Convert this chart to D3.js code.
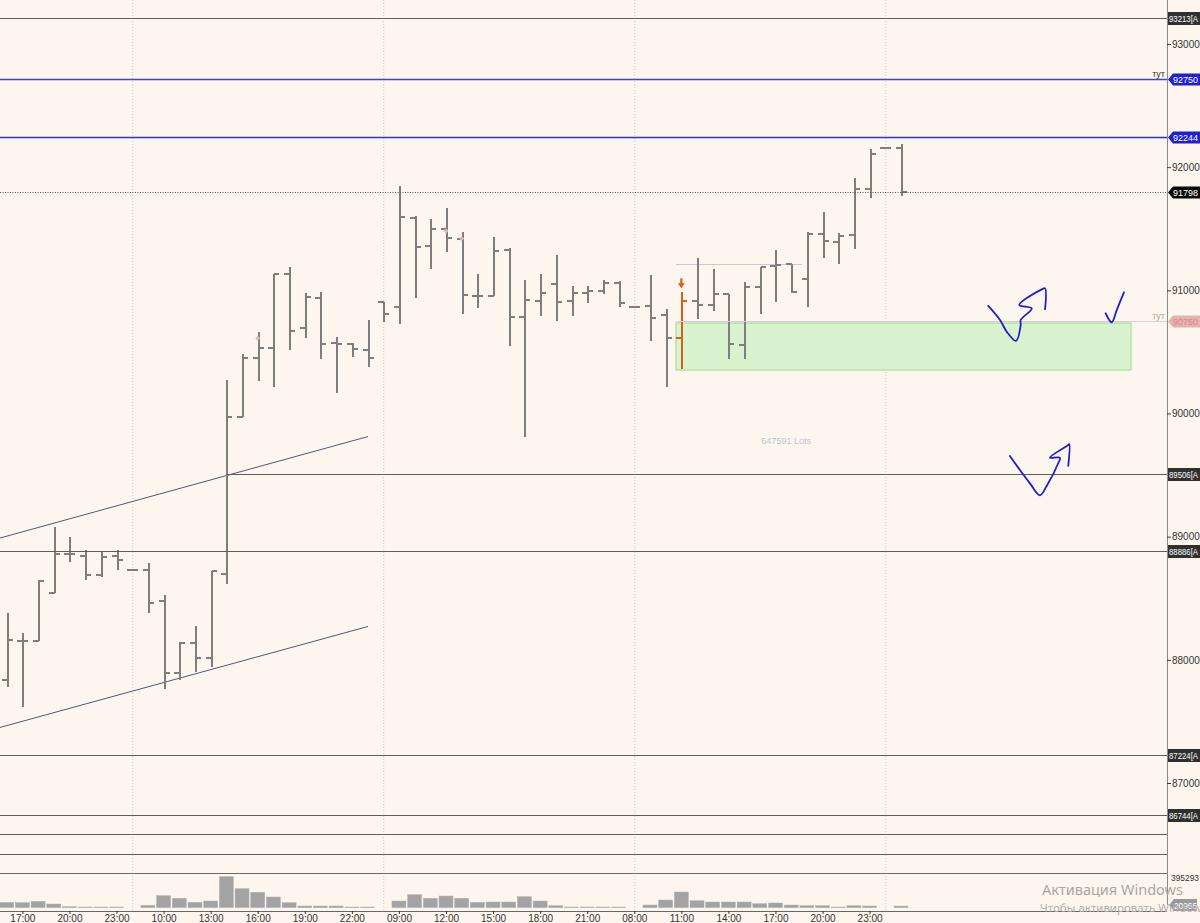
<!DOCTYPE html>
<html><head><meta charset="utf-8">
<script src="https://cdn.jsdelivr.net/npm/d3@7"></script>
<style>
html,body{margin:0;padding:0;background:#fdf6ee;}
svg{display:block;font-family:"Liberation Sans",Arial,sans-serif;}
</style></head>
<body>
<svg id="c" width="1200" height="923"></svg>
<script>
// ---------- DATA ----------
const slotTimes = ["16:00","17:00","18:00","19:00","20:00","21:00","22:00","23:00",
 "08:00","09:00","10:00","11:00","12:00","13:00","14:00","15:00","16:00","17:00","18:00","19:00","20:00","21:00","22:00","23:00",
 "08:00","09:00","10:00","11:00","12:00","13:00","14:00","15:00","16:00","17:00","18:00","19:00","20:00","21:00","22:00","23:00",
 "08:00","09:00","10:00","11:00","12:00","13:00","14:00","15:00","16:00","17:00","18:00","19:00","20:00","21:00","22:00","23:00",
 "08:00","09:00"];
const openP = [87836,88153,88155,88545,88857,88843,88689,88843,88730,88730,88478,87891,88134,88013,88697,89969,90453,90534,91133,90692,90935,90575,90562,90516,90908,90862,91590,91362,91496,91417,90954,90954,91328,90786,90916,91051,90913,90976,90997,91057,90861,90873,90800,90611,90916,90881,90968,90556,91030,91200,91214,91090,91455,91395,91449,91820,92153,92153];
const highP = [88380,88220,88648,89076,88995,88892,88884,88892,88730,88789,88527,88147,88277,88724,90272,90483,90659,91133,91192,90981,90984,90619,90570,90759,90908,91847,91606,91577,91671,91471,91130,91435,91341,91084,91130,91287,91038,91038,91084,91076,90861,91125,90848,90984,91260,91171,90968,91065,91187,91327,91214,91476,91634,91468,91914,92145,92153,92188];
const lowP = [87780,87615,88150,88540,88797,88648,88670,88730,88730,88378,87761,87836,87899,87944,88613,89969,90266,90213,90516,90610,90443,90169,90461,90375,90745,90727,90935,91173,91314,90805,90854,90954,90550,89812,90792,90754,90794,90895,90970,90862,90861,90591,90217,90359,90765,90835,90440,90440,90805,90908,90976,90867,91260,91211,91333,91752,92153,91768];
const closeP = [88161,88153,88640,88857,88857,88689,88837,88810,88730,88464,87891,88134,88013,88721,89969,90453,90529,91133,90672,90943,90564,90562,90521,90453,90805,91598,91354,91496,91427,90962,90954,91322,90786,90922,90981,90908,90976,90997,91057,90900,90861,90775,90611,90916,90881,90968,90562,91030,91187,91206,90989,91455,91401,91441,91820,92104,92153,91798];
const volume = [67600,63800,81600,47200,12800,8900,8900,8900,0,30600,153000,119900,68900,85400,395293,242300,196400,136400,63800,21700,21700,21700,8900,8900,0,85400,165800,119900,149200,119900,68900,72700,72700,140300,85400,25500,8900,8900,8900,8900,0,34400,98200,200200,89300,72700,72700,72700,51000,59900,34400,25500,25500,8900,25500,21700,0,20965];
const sessionStarts = [8,24,40,56];
const signalSlot = 43;

const priceTicks = [87000,88000,89000,90000,91000,92000,93000];
const levelValues = [93213,92716,92244,91798,90750,89506,88886,87224,86744,86586,86424];
const levelLabels = ["93213[A","92750","92244","91798","90750","89506[A","88886[A","87224[A","86744[A","",""];
const levelKinds  = ["grey","blueThick","blue","dot","pink","grey","grey","grey","grey","grey","grey"];
const levelStart  = [null,null,null,null,42.66,14,null,null,null,null,null];
const levelNotes  = ["","тут","","","тут","","","","","",""];

const trendUpper = [[-0.43,88989],[23.03,89813]];
const trendLower = [[-0.43,87451],[23.03,88271]];
const zoneSlots = [42.66,71.66];
const zonePrices = [90735,90353];
const thinLine = {from:42.66,to:50.7,price:91217};
const markers = [[16,90610],[28,91482],[29,91420]];

const scribble1 = [[62.56,90873],[63.31,90759],[63.74,90664],[64.33,90589],[64.63,90718],[64.63,90759],[65.33,90854],[64.54,90881],[65.97,91008],[66.18,91016],[66.18,90846]];
const scribble2 = [[70.04,90814],[70.43,90741],[70.75,90840],[71.21,90984]];
const scribble3 = [[63.94,89655],[64.58,89541],[65.22,89433],[65.86,89336],[66.32,89420],[67.02,89596],[67.13,89641],[66.49,89641],[67.66,89744],[67.73,89752],[67.66,89574]];
const lotsText = "647591 Lots";
const volMaxLabel = "395293";

// ---------- SCALES ----------
const W = 1200, H = 923, axisX = 1167, paneBottom = 873, timeAxisY = 911;
const x = d3.scaleLinear().domain([0, 57]).range([6.7, 901]);
const y = d3.scaleLinear().domain([87000, 93000]).range([783, 44]);
const yv = d3.scaleLinear().domain([0, 395293]).range([907.7, 876.7]);

const svg = d3.select("#c");
svg.append("rect").attr("width",W).attr("height",H).attr("fill","#fdf6ee");

const defs = svg.append("defs");
defs.append("clipPath").attr("id","pane").append("rect").attr("x",0).attr("y",0).attr("width",axisX).attr("height",paneBottom);

// session separators
svg.append("g").selectAll("line").data(sessionStarts).join("line")
  .attr("x1",d=>x(d)+0.5).attr("x2",d=>x(d)+0.5).attr("y1",0).attr("y2",timeAxisY)
  .attr("stroke","#cfc9c2").attr("stroke-dasharray","1,2").attr("stroke-width",1);

const pane = svg.append("g").attr("clip-path","url(#pane)");

// zone
pane.append("rect")
  .attr("x",x(zoneSlots[0])).attr("y",y(zonePrices[0]))
  .attr("width",x(zoneSlots[1])-x(zoneSlots[0])).attr("height",y(zonePrices[1])-y(zonePrices[0]))
  .attr("fill","#d9f3cf").attr("stroke","#a9dd9c").attr("stroke-width",1.2);

// level lines
const styleOf = k => ({
  grey:{c:"#5e5e5e",w:1,d:null},
  blueThick:{c:"#4545c0",w:1.6,d:null},
  blue:{c:"#2f2fe0",w:1.4,d:null},
  dot:{c:"#555",w:1,d:"1,1.5"},
  pink:{c:"#dccfcf",w:1,d:null}
})[k];
levelValues.forEach((v,i)=>{
  const s = styleOf(levelKinds[i]);
  const yy = Math.round(y(v))+0.5;
  const l = svg.append("line").attr("x1",levelStart[i]==null?0:x(levelStart[i])).attr("x2",axisX)
    .attr("y1",yy).attr("y2",yy).attr("stroke",s.c).attr("stroke-width",s.w);
  if(s.d) l.attr("stroke-dasharray",s.d);
  if(levelNotes[i]) svg.append("text").attr("x",axisX-2).attr("y",yy-3).attr("text-anchor","end")
     .attr("font-size",9).attr("fill",levelKinds[i]==="pink"?"#b0a6a6":"#333").text(levelNotes[i]);
});
// darker short segment on zone top
pane.append("line").attr("x1",x(thinLine.from)).attr("x2",x(thinLine.to))
  .attr("y1",Math.round(y(90750))+0.5).attr("y2",Math.round(y(90750))+0.5).attr("stroke","#b8b8b8");
pane.append("line").attr("x1",x(thinLine.from)).attr("x2",x(thinLine.to))
  .attr("y1",Math.round(y(thinLine.price))+0.5).attr("y2",Math.round(y(thinLine.price))+0.5).attr("stroke","#c6ccd6");

// trend lines
[trendUpper,trendLower].forEach(t=>{
  pane.append("line").attr("x1",x(t[0][0])).attr("y1",y(t[0][1])).attr("x2",x(t[1][0])).attr("y2",y(t[1][1]))
    .attr("stroke","#4e5a72").attr("stroke-width",1);
});

// text lots
svg.append("text").attr("x",x(48.1)).attr("y",y(89750)).attr("font-size",9).attr("fill","#b9c6d2").text(lotsText);

// OHLC bars
const bars = pane.append("g");
d3.range(openP.length).forEach(i=>{
  const cx = Math.round(x(i))+0.5;
  const col = i===signalSlot ? "#d4601c" : "#7e7e7e";
  const g = bars.append("g").attr("stroke",col).attr("stroke-width",2).attr("shape-rendering","crispEdges");
  if(highP[i]!==lowP[i]) g.append("line").attr("x1",cx).attr("x2",cx).attr("y1",y(highP[i])).attr("y2",y(lowP[i]));
  g.append("line").attr("x1",cx-5.5).attr("x2",cx).attr("y1",Math.round(y(openP[i]))).attr("y2",Math.round(y(openP[i])));
  g.append("line").attr("x1",cx).attr("x2",cx+5.5).attr("y1",Math.round(y(closeP[i]))).attr("y2",Math.round(y(closeP[i])));
});
// signal arrow
{
  const cx = x(signalSlot), ty = y(highP[signalSlot]) - 5;
  svg.append("line").attr("x1",cx).attr("x2",cx).attr("y1",ty-9).attr("y2",ty-2).attr("stroke","#d4601c").attr("stroke-width",2.2);
  svg.append("path").attr("d",`M${cx-3.5},${ty-4}L${cx+3.5},${ty-4}L${cx},${ty+1}Z`).attr("fill","#d4601c");
}
// small markers
svg.append("g").selectAll("path").data(markers).join("path")
  .attr("d",d=>{const cx=x(d[0]),cy=y(d[1]);return `M${cx-2.5},${cy}L${cx},${cy-2.5}L${cx+2.5},${cy}L${cx},${cy+2.5}Z`;})
  .attr("fill","#e8b8b0");

// scribbles
const sl = d3.line().x(d=>x(d[0])).y(d=>y(d[1])).curve(d3.curveCatmullRom.alpha(0.5));
[scribble1,scribble2,scribble3].forEach(s=>{
  svg.append("path").attr("d",sl(s)).attr("fill","none").attr("stroke","#1e1ed0").attr("stroke-width",1.8)
    .attr("stroke-linecap","round").attr("stroke-linejoin","round");
});

// volume pane separator
svg.append("line").attr("x1",0).attr("x2",axisX).attr("y1",paneBottom+0.5).attr("y2",paneBottom+0.5).attr("stroke","#6a6a6a");
// volume bars
svg.append("g").selectAll("rect").data(volume.map((v,i)=>({v,i})).filter(d=>d.v>0)).join("rect")
  .attr("x",d=>x(d.i)-7).attr("width",14).attr("y",d=>yv(d.v)).attr("height",d=>Math.max(0.7,yv(0)-yv(d.v)))
  .attr("fill","#a3a3a3").attr("stroke","#b4b4b4").attr("stroke-width",0.5);

// right axis
svg.append("line").attr("x1",axisX+0.5).attr("x2",axisX+0.5).attr("y1",0).attr("y2",905).attr("stroke","#8a8a8a");
const ra = svg.append("g").attr("transform",`translate(${axisX},0)`)
  .call(d3.axisRight(y).tickValues(priceTicks).tickSize(4).tickPadding(1).tickFormat(d3.format("d")));
ra.select(".domain").remove();
ra.selectAll("line").attr("stroke","#333");
ra.selectAll("text").attr("font-size",10).attr("fill","#333").attr("font-family","Liberation Sans, Arial");

// level labels on axis
levelValues.forEach((v,i)=>{
  if(!levelLabels[i]) return;
  const k = levelKinds[i], cy = Math.round(y(v))+0.5;
  let fill = "#303030", tc = "#fff", arrow = false;
  if(k==="blue"||k==="blueThick"){fill="#2020d0"; arrow=true;}
  if(k==="dot"){fill="#0a0a0a"; arrow=true;}
  if(k==="pink"){fill="#e6b2b0"; tc="#d88a86"; arrow=true;}
  const x0 = axisX+1, x1 = 1200;
  const path = arrow ? `M${x0},${cy}L${x0+5},${cy-6}L${x1},${cy-6}L${x1},${cy+6}L${x0+5},${cy+6}Z`
                     : `M${x0},${cy-6.5}L${x1},${cy-6.5}L${x1},${cy+6.5}L${x0},${cy+6.5}Z`;
  svg.append("path").attr("d",path).attr("fill",fill);
  svg.append("text").attr("x",arrow?x0+5:x0+1).attr("y",cy+3.5).attr("font-size",9.5).attr("fill",tc)
    .attr("textLength",arrow?25:29).attr("lengthAdjust","spacingAndGlyphs").text(levelLabels[i]);
});
// volume labels
svg.append("text").attr("x",axisX+4).attr("y",yv(395293)+4).attr("font-size",9.5).attr("fill","#333")
  .attr("textLength",28).attr("lengthAdjust","spacingAndGlyphs").text(volMaxLabel);
{
  const cy = yv(volume[volume.length-1]) - 1, x0 = axisX+2;
  svg.append("path").attr("d",`M${x0},${cy}L${x0+5},${cy-6}L1197,${cy-6}L1197,${cy+6}L${x0+5},${cy+6}Z`).attr("fill","#9a9a9a");
  svg.append("text").attr("x",x0+5).attr("y",cy+3.5).attr("font-size",9.5).attr("fill","#fff")
    .attr("textLength",23).attr("lengthAdjust","spacingAndGlyphs").text(String(volume[volume.length-1]));
}

// bottom time axis
const tickSlots = d3.range(slotTimes.length).filter(i=>i%3===1);
const ba = svg.append("g").attr("transform",`translate(0,${timeAxisY})`)
  .call(d3.axisBottom(x).tickValues(tickSlots).tickSize(3).tickPadding(1).tickFormat(i=>slotTimes[i]));
ba.select(".domain").attr("d",`M0,0.5H${axisX}`).attr("stroke","#666");
ba.selectAll("line").attr("stroke","#333");
ba.selectAll("text").attr("font-size",10).attr("fill","#333").attr("font-family","Liberation Sans, Arial");

// watermark
svg.append("text").attr("x",1042).attr("y",895).attr("font-size",14.5).attr("fill","#a8a6a4").attr("font-family","Noto Sans, DejaVu Sans, sans-serif").text("Активация Windows");
svg.append("text").attr("x",1040).attr("y",912).attr("font-size",11.5).attr("fill","#b0aeac").attr("font-family","Noto Sans, DejaVu Sans, sans-serif").text("Чтобы активировать Windows");
</script>
</body></html>
